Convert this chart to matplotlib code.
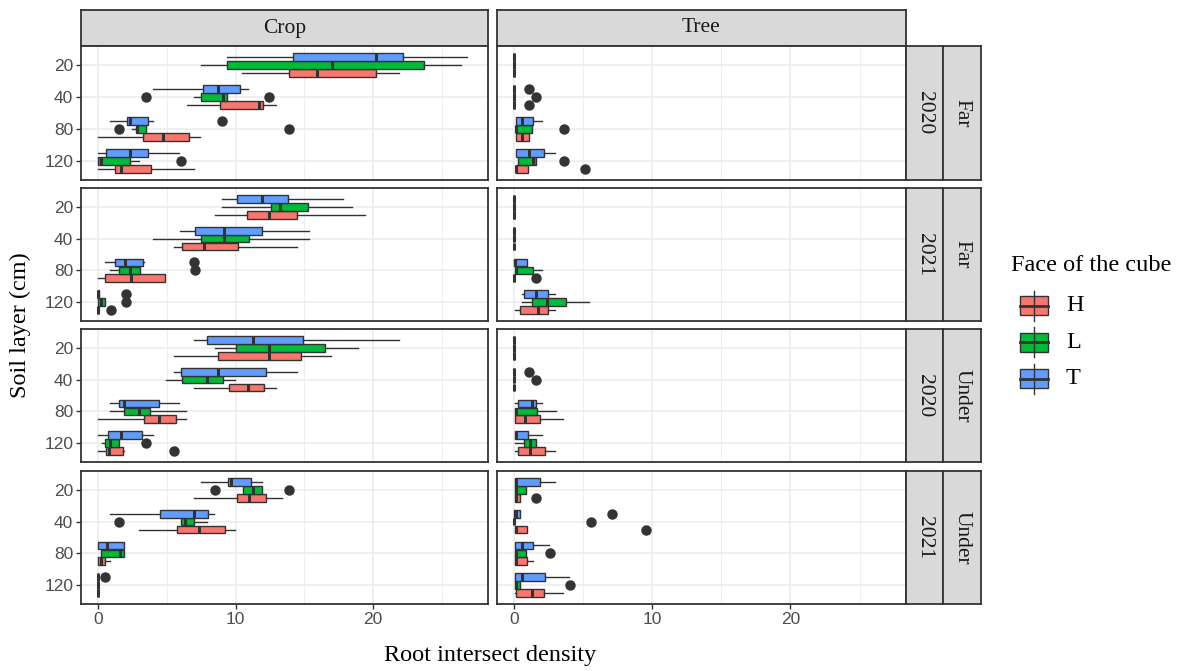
import matplotlib
matplotlib.use("Agg")
import matplotlib.pyplot as plt
from matplotlib.patches import Rectangle

plt.rcParams['font.family'] = ['Liberation Serif', 'DejaVu Serif']

depths = ['20', '40', '80', '120']
faces = ['H', 'L', 'T']
face_colors = ['#F8766D', '#00BA38', '#619CFF']
face_offsets = [0.25, 0.0, -0.25]

# each row: [whisker low, q1, median, q3, whisker high] for depths 20, 40, 80, 120
zero = [0, 0, 0, 0, 0]

# Crop, Far, 2020
cf20_H = [[10.45, 13.9, 15.95, 20.2, 21.9], [6.45, 8.9, 11.7, 12.0, 12.95], [0.0, 3.25, 4.7, 6.6, 7.4], [0.0, 1.2, 1.65, 3.85, 7.0]]
cf20_L = [[7.5, 9.4, 17.0, 23.7, 26.4], [7.0, 7.5, 9.1, 9.4, 9.4], [2.45, 2.75, 2.8, 3.5, 3.5], [0.0, 0.0, 0.2, 2.3, 3.0]]
cf20_T = [[9.4, 14.2, 20.2, 22.2, 26.8], [4.0, 7.6, 8.7, 10.3, 10.9], [0.9, 2.1, 2.35, 3.6, 4.0], [0.0, 0.6, 2.35, 3.6, 5.9]]
cf20_out = [('L', 1, 3.5), ('L', 1, 12.4), ('T', 2, 9.0), ('L', 2, 1.5), ('L', 2, 13.9), ('L', 3, 6.0)]

# Crop, Far, 2021
cf21_H = [[8.5, 10.8, 12.45, 14.5, 19.4], [5.5, 6.1, 7.7, 10.15, 14.45], [0.0, 0.5, 2.4, 4.85, 4.85], [0.0, 0.0, 0.0, 0.0, 0.05]]
cf21_L = [[9.0, 12.55, 13.2, 15.3, 18.45], [4.0, 7.5, 9.15, 11.0, 15.35], [0.9, 1.55, 2.3, 3.05, 3.05], [0.0, 0.0, 0.2, 0.5, 0.5]]
cf21_T = [[9.0, 10.1, 11.95, 13.85, 17.85], [5.95, 7.05, 9.15, 11.9, 15.35], [0.5, 1.2, 1.95, 3.25, 3.35], [0.0, 0.0, 0.0, 0.05, 0.1]]
cf21_out = [('T', 2, 7.0), ('L', 2, 7.05), ('T', 3, 2.0), ('L', 3, 2.0), ('H', 3, 0.95)]

# Crop, Under, 2020
cu20_H = [[5.5, 8.75, 12.45, 14.75, 16.95], [7.0, 9.5, 10.9, 12.1, 12.95], [0.0, 3.35, 4.45, 5.65, 6.4], [0.0, 0.6, 0.8, 1.8, 1.9]]
cu20_L = [[8.5, 10.0, 12.45, 16.5, 18.9], [4.95, 6.1, 7.9, 9.1, 9.95], [0.9, 1.9, 2.95, 3.75, 6.4], [0.3, 0.5, 0.9, 1.55, 1.55]]
cu20_T = [[7.0, 7.95, 11.25, 14.9, 21.9], [5.5, 6.0, 8.7, 12.2, 14.45], [0.9, 1.55, 1.9, 4.4, 5.9], [0.0, 0.7, 1.65, 3.2, 4.0]]
cu20_out = [('L', 3, 3.5), ('H', 3, 5.55)]

# Crop, Under, 2021
cu21_H = [[7.0, 10.1, 10.95, 12.2, 13.4], [3.0, 5.75, 7.35, 9.25, 9.95], [0.0, 0.0, 0.25, 0.5, 0.9], zero]
cu21_L = [[10.55, 10.55, 11.25, 11.9, 11.9], [6.0, 6.0, 6.3, 6.95, 7.9], [0.25, 0.25, 1.6, 1.9, 1.9], zero]
cu21_T = [[7.5, 9.45, 9.7, 11.1, 11.9], [0.9, 4.5, 7.0, 8.0, 8.45], [0.0, 0.0, 0.65, 1.9, 1.9], zero]
cu21_out = [('L', 0, 8.5), ('L', 0, 13.9), ('L', 1, 1.5), ('T', 3, 0.5)]

# Tree, Far, 2020
tf20_H = [zero, zero, [0.1, 0.1, 0.6, 1.1, 1.1], [0.1, 0.1, 0.1, 1.0, 1.0]]
tf20_L = [zero, zero, [0.1, 0.1, 0.15, 1.3, 1.3], [0.3, 0.3, 1.35, 1.55, 1.55]]
tf20_T = [zero, zero, [0.1, 0.1, 0.6, 1.4, 2.0], [0.1, 0.1, 1.1, 2.15, 2.95]]
tf20_out = [('T', 1, 1.1), ('L', 1, 1.55), ('H', 1, 1.1), ('L', 2, 3.6), ('L', 3, 3.6), ('H', 3, 5.1)]

# Tree, Far, 2021
tf21_H = [zero, zero, zero, [0.05, 0.4, 1.75, 2.45, 2.95]]
tf21_L = [zero, zero, [0.05, 0.05, 0.15, 1.35, 2.0], [0.6, 1.3, 2.4, 3.75, 5.45]]
tf21_T = [zero, zero, [0.0, 0.0, 0.05, 0.9, 0.9], [0.6, 0.7, 1.55, 2.45, 2.95]]
tf21_out = [('H', 2, 1.55)]

# Tree, Under, 2020
tu20_H = [zero, zero, [0.05, 0.05, 0.8, 1.9, 3.55], [0.05, 0.3, 1.15, 2.25, 2.95]]
tu20_L = [zero, zero, [0.05, 0.05, 0.15, 1.65, 3.0], [0.05, 0.75, 1.15, 1.55, 1.55]]
tu20_T = [zero, zero, [0.05, 0.3, 1.3, 1.55, 2.0], [0.05, 0.05, 0.1, 1.0, 2.0]]
tu20_out = [('T', 1, 1.1), ('L', 1, 1.55)]

# Tree, Under, 2021
tu21_H = [[0.05, 0.05, 0.1, 0.4, 0.4], [0.05, 0.05, 0.1, 0.9, 0.9], [0.05, 0.05, 0.1, 0.9, 1.4], [0.05, 0.15, 1.3, 2.15, 3.55]]
tu21_L = [[0.05, 0.05, 0.1, 0.85, 0.85], zero, [0.05, 0.05, 0.1, 0.85, 0.85], [0.05, 0.05, 0.1, 0.4, 0.4]]
tu21_T = [[0.05, 0.05, 0.1, 1.9, 2.95], [0.0, 0.0, 0.1, 0.4, 0.4], [0.05, 0.05, 0.55, 1.4, 2.5], [0.05, 0.05, 0.6, 2.25, 3.95]]
tu21_out = [('H', 0, 1.55), ('T', 1, 7.05), ('L', 1, 5.55), ('H', 1, 9.55), ('L', 2, 2.6), ('L', 3, 4.05)]

crop_panels = [(cf20_H, cf20_L, cf20_T, cf20_out), (cf21_H, cf21_L, cf21_T, cf21_out),
               (cu20_H, cu20_L, cu20_T, cu20_out), (cu21_H, cu21_L, cu21_T, cu21_out)]
tree_panels = [(tf20_H, tf20_L, tf20_T, tf20_out), (tf21_H, tf21_L, tf21_T, tf21_out),
               (tu20_H, tu20_L, tu20_T, tu20_out), (tu21_H, tu21_L, tu21_T, tu21_out)]
col_names = ['Crop', 'Tree']
row_years = ['2020', '2021', '2020', '2021']
row_sites = ['Far', 'Far', 'Under', 'Under']

W, H = 1185, 671
fig = plt.figure(figsize=(W / 100, H / 100), dpi=100)


def rect(l, t, w, h):
    return [l / W, 1 - (t + h) / H, w / W, h / H]


edge = '#333333'
strip_bg = '#D9D9D9'
cols = [(81, 407), (497, 409)]
rows = [(46, 134), (188, 133), (329, 133), (471, 133)]


def draw_panel(ax, panel):
    ax.set_facecolor('white')
    for k, (face, stats) in enumerate(zip(faces, panel[:3])):
        bstats = []
        for i, s in enumerate(stats):
            fl = [v for f, d, v in panel[3] if f == face and d == i]
            bstats.append(dict(whislo=s[0], q1=s[1], med=s[2], q3=s[3], whishi=s[4], fliers=fl))
        pos = [i + 1 + face_offsets[k] for i in range(len(depths))]
        ax.bxp(bstats, positions=pos, widths=0.24, orientation='horizontal',
               patch_artist=True, showcaps=False, manage_ticks=False,
               boxprops=dict(facecolor=face_colors[k], edgecolor=edge, linewidth=1.0),
               medianprops=dict(color=edge, linewidth=2.2),
               whiskerprops=dict(color=edge, linewidth=1.0),
               flierprops=dict(marker='o', markerfacecolor=edge, markeredgecolor=edge,
                               markersize=6.5, linestyle='none'))
    ax.set_xlim(-1.24, 28.36)
    ax.set_ylim(4.6, 0.4)
    ax.set_xticks([0, 10, 20])
    ax.set_xticks([5, 15, 25], minor=True)
    ax.set_yticks(range(1, len(depths) + 1))
    ax.grid(True, which='major', color='#EBEBEB', linewidth=1.1)
    ax.grid(True, which='minor', axis='x', color='#EBEBEB', linewidth=0.6)
    ax.set_axisbelow(True)
    ax.tick_params(which='minor', length=0)
    ax.tick_params(which='major', length=3.5, width=1, color=edge, labelcolor='#4D4D4D',
                   labelsize=12.5, pad=2)
    for sp in ax.spines.values():
        sp.set_color(edge)
        sp.set_linewidth(1.3)


def strip(l, t, w, h, text, rot=0):
    sa = fig.add_axes(rect(l, t, w, h))
    sa.set_facecolor(strip_bg)
    sa.set_xticks([])
    sa.set_yticks([])
    for sp in sa.spines.values():
        sp.set_color(edge)
        sp.set_linewidth(1.3)
    sa.text(0.5, 0.5, text, ha='center', va='center', rotation=rot, fontsize=15.5,
            color='#1A1A1A', transform=sa.transAxes)


for c, panels in enumerate([crop_panels, tree_panels]):
    cl, cw = cols[c]
    strip(cl, 10, cw, 36, col_names[c])
    for r, panel in enumerate(panels):
        rt, rh = rows[r]
        ax = fig.add_axes(rect(cl, rt, cw, rh))
        draw_panel(ax, panel)
        if c == 0:
            ax.set_yticklabels(depths, family='Liberation Sans')
        else:
            ax.tick_params(axis='y', length=0, labelleft=False)
        if r == len(rows) - 1:
            ax.set_xticklabels(['0', '10', '20'], family='Liberation Sans')
        else:
            ax.tick_params(axis='x', length=0, labelbottom=False)

for r in range(len(rows)):
    rt, rh = rows[r]
    strip(906, rt, 37, rh, row_years[r], rot=270)
    strip(943, rt, 38, rh, row_sites[r], rot=270)

fig.text(490 / W, 1 - 655 / H, 'Root intersect density', ha='center', va='center', fontsize=17.5)
fig.text(20 / W, 1 - 325 / H, 'Soil layer (cm)', ha='center', va='center', rotation=90, fontsize=17.5)

# legend
fig.text(1011 / W, 1 - 266 / H, 'Face of the cube', ha='left', va='center', fontsize=17.5)
lax = fig.add_axes(rect(1000, 280, 120, 120))
lax.set_xlim(1000, 1120)
lax.set_ylim(400, 280)
lax.axis('off')
for k, face in enumerate(faces):
    cy = 305.5 + 36.5 * k
    lax.plot([1034, 1034], [cy - 15, cy + 15], color=edge, lw=1.0)
    lax.add_patch(Rectangle((1020, cy - 9.5), 28, 19, facecolor=face_colors[k], edgecolor=edge, lw=1.0))
    lax.plot([1020, 1048], [cy, cy], color=edge, lw=2.0)
    lax.text(1066, cy, face, ha='left', va='center', fontsize=17.5)

fig.savefig('out.png', dpi=100)
